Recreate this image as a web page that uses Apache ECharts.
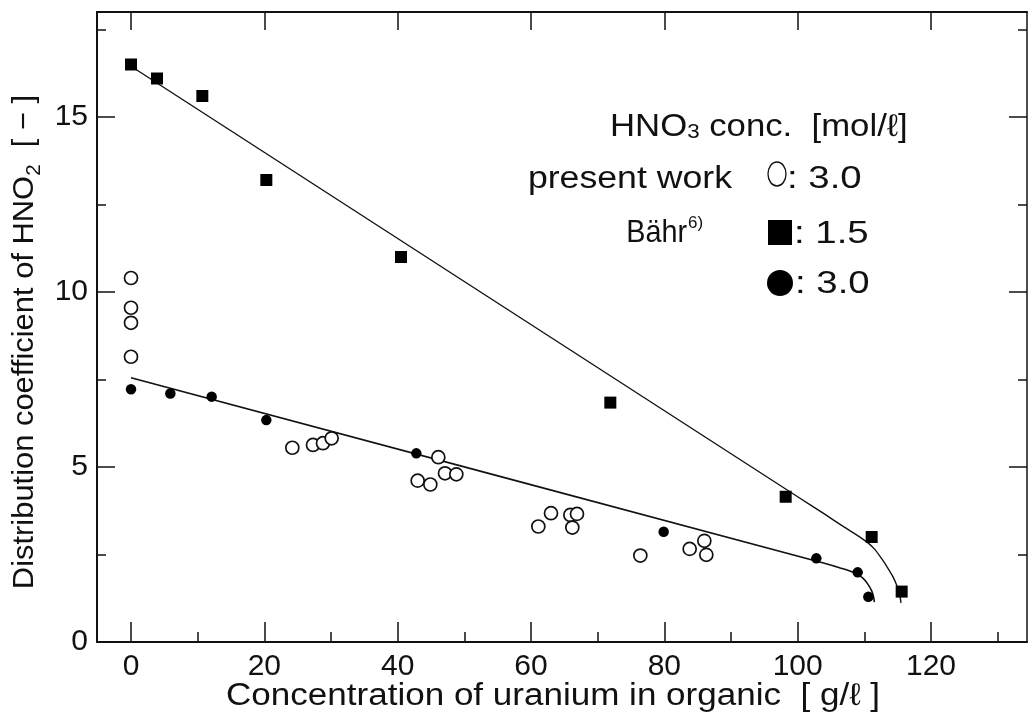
<!DOCTYPE html>
<html>
<head>
<meta charset="utf-8">
<script src="https://cdn.jsdelivr.net/npm/echarts@6/dist/echarts.min.js"></script>
<style>
  html, body { margin: 0; padding: 0; background: #fff; }
  #chart { width: 1029px; height: 723px; }
</style>
</head>
<body>
<div id="chart"></div>
<script>
// Present work, HNO3 3.0 mol/l (open circles)
const presentX = [0, 0, 0, 0, 24.2, 27.3, 28.8, 30.1, 46.1, 47.1, 48.8, 43.0, 44.9, 63.0, 61.1, 65.9, 66.9, 66.2, 76.4, 83.8, 86.0, 86.3];
const presentY = [10.4, 9.55, 9.12, 8.15, 5.55, 5.63, 5.68, 5.82, 5.28, 4.82, 4.79, 4.61, 4.5, 3.68, 3.3, 3.63, 3.66, 3.27, 2.47, 2.66, 2.89, 2.49];

// Bähr, HNO3 1.5 mol/l (filled squares)
const bahr15X = [0, 3.9, 10.7, 20.3, 40.5, 71.9, 98.2, 111.1, 115.6];
const bahr15Y = [16.5, 16.1, 15.6, 13.2, 11.0, 6.84, 4.15, 3.0, 1.44];

// Bähr, HNO3 3.0 mol/l (filled circles)
const bahr30X = [0, 5.9, 12.1, 20.3, 42.8, 79.9, 102.8, 109.0, 110.6];
const bahr30Y = [7.22, 7.1, 7.01, 6.34, 5.39, 3.15, 2.39, 1.99, 1.29];

// Drawn trend curves (vertices along each curve)
const upperCurveX = [0, 100, 104, 107, 109, 110.5, 111.6, 112.6, 113.5, 114.3, 114.9, 115.3, 115.5];
const upperCurveY = [16.45, 4.15, 3.66, 3.28, 3.04, 2.84, 2.64, 2.38, 2.12, 1.86, 1.6, 1.35, 1.12];
const lowerCurveX = [0, 104, 106.5, 108.5, 109.7, 110.5, 111.1, 111.4, 111.5];
const lowerCurveY = [7.55, 2.25, 2.11, 1.98, 1.84, 1.66, 1.46, 1.28, 1.14];

// Tick positions and labels
const xMajorTicks = [0, 20, 40, 60, 80, 100, 120];
const xMinorTicks = [10, 30, 50, 70, 90, 110, 130];
const yMajorTicks = [0, 5, 10, 15];
const yMinorTicks = [2.5, 7.5, 12.5, 17.5];

const xTitle = 'Concentration of uranium in organic  [ g/ℓ ]';
const yTitleMain = 'Distribution coefficient of HNO';
const yTitleSub = '2';
const yTitleTail = '  [ − ]';
const legendHeader = ['HNO', '3', ' conc.  [mol/ℓ]'];
const legendRows = ['present work', 'Bähr', '6)'];
const legendValues = [': 3.0', ': 1.5', ': 3.0'];

const FONT = "'Liberation Sans', Arial, Helvetica, sans-serif";
const INK = '#111';

const zip = (xs, ys) => xs.map((x, i) => [x, ys[i]]);

const X_MIN = -5.1, X_MAX = 134.4, Y_MIN = 0, Y_MAX = 18;

function xAxisDef(pos, ticks, len, showLine, labels) {
  return {
    type: 'value', position: pos, min: X_MIN, max: X_MAX,
    axisLine: { show: showLine, onZero: false, lineStyle: { color: INK, width: 2 } },
    axisTick: { show: true, inside: true, length: len, customValues: ticks, lineStyle: { color: INK, width: 1.5 } },
    axisLabel: labels ? { show: true, customValues: ticks, fontSize: 30, fontFamily: FONT, color: INK, margin: 10 } : { show: false },
    splitLine: { show: false }
  };
}
function yAxisDef(pos, ticks, len, showLine, labels, lineW) {
  return {
    type: 'value', position: pos, min: Y_MIN, max: Y_MAX,
    axisLine: { show: showLine, onZero: false, lineStyle: { color: INK, width: lineW || 2 } },
    axisTick: { show: true, inside: true, length: len, customValues: ticks, lineStyle: { color: INK, width: 1.5 } },
    axisLabel: labels ? { show: true, customValues: ticks, fontSize: 30, fontFamily: FONT, color: INK, margin: 9 } : { show: false },
    splitLine: { show: false }
  };
}

const chart = echarts.init(document.getElementById('chart'), null, { renderer: 'canvas' });

// text centred vertically on y, optionally stretched horizontally about its anchor
const txt = (text, x, y, size, align, sx) => ({
  type: 'text', x: x, y: y, scaleX: sx || 1,
  style: { text: text, fontSize: size, fontFamily: FONT, fill: INK, align: align, verticalAlign: 'middle' }
});

chart.setOption({
  backgroundColor: '#fff',
  animation: false,
  grid: { left: 97, top: 12, width: 930, height: 630, containLabel: false },
  xAxis: [
    xAxisDef('bottom', xMajorTicks, 20, true, true),
    xAxisDef('bottom', xMinorTicks, 10, false, false),
    xAxisDef('top', xMajorTicks, 18, true, false)
  ],
  yAxis: [
    yAxisDef('left', yMajorTicks, 18, true, true),
    yAxisDef('left', yMinorTicks, 9, false, false),
    yAxisDef('right', yMajorTicks, 18, true, false, 1.5),
    yAxisDef('right', yMinorTicks, 9, false, false)
  ],
  series: [
    {
      type: 'line', data: zip(upperCurveX, upperCurveY), showSymbol: false, smooth: 0.25,
      lineStyle: { color: INK, width: 1.4 }, z: 2, silent: true
    },
    {
      type: 'line', data: zip(lowerCurveX, lowerCurveY), showSymbol: false, smooth: 0.25,
      lineStyle: { color: INK, width: 1.6 }, z: 2, silent: true
    },
    {
      name: 'present', type: 'scatter', data: zip(presentX, presentY), symbol: 'circle', symbolSize: 13,
      itemStyle: { color: '#fff', borderColor: INK, borderWidth: 1.7, opacity: 1 }, z: 3
    },
    {
      name: 'bahr15', type: 'scatter', data: zip(bahr15X, bahr15Y), symbol: 'rect', symbolSize: 12,
      itemStyle: { color: '#000', opacity: 1 }, z: 4
    },
    {
      name: 'bahr30', type: 'scatter', data: zip(bahr30X, bahr30Y), symbol: 'circle', symbolSize: 10.5,
      itemStyle: { color: '#000', opacity: 1 }, z: 4
    }
  ],
  graphic: [
    // axis titles
    txt(xTitle, 553, 696, 31, 'center', 1.13),
    {
      type: 'text', x: 40, y: 342, rotation: Math.PI / 2, scaleX: 1.03,
      style: {
        text: yTitleMain + '{s|' + yTitleSub + '}' + yTitleTail,
        fontSize: 30, fontFamily: FONT, fill: INK, align: 'center', verticalAlign: 'bottom',
        rich: { s: { fontSize: 20, fontFamily: FONT, fill: INK, verticalAlign: 'bottom', padding: [0, 0, -4, 0] } }
      }
    },
    // key
    {
      type: 'text', x: 610, y: 127, scaleX: 1.12,
      style: {
        text: legendHeader[0] + '{s|' + legendHeader[1] + '}' + legendHeader[2],
        fontSize: 31, fontFamily: FONT, fill: INK, align: 'left', verticalAlign: 'middle',
        rich: { s: { fontSize: 20, fontFamily: FONT, fill: INK, padding: [10, 0, 0, 0] } }
      }
    },
    txt(legendRows[0], 732, 179, 31, 'right', 1.15),
    txt(legendRows[1], 687, 233, 32, 'right', 0.9),
    txt(legendRows[2], 688, 223, 17, 'left'),
    { type: 'ellipse', shape: { cx: 777, cy: 174, rx: 9, ry: 12 }, style: { fill: '#fff', stroke: INK, lineWidth: 1.3 } },
    { type: 'rect', shape: { x: 768, y: 220, width: 24, height: 25 }, style: { fill: '#000' } },
    { type: 'circle', shape: { cx: 780, cy: 283, r: 13 }, style: { fill: '#000' } },
    txt(legendValues[0], 787, 179, 32, 'left', 1.2),
    txt(legendValues[1], 794, 234, 32, 'left', 1.2),
    txt(legendValues[2], 795, 284, 32, 'left', 1.2)
  ]
});
</script>
</body>
</html>
